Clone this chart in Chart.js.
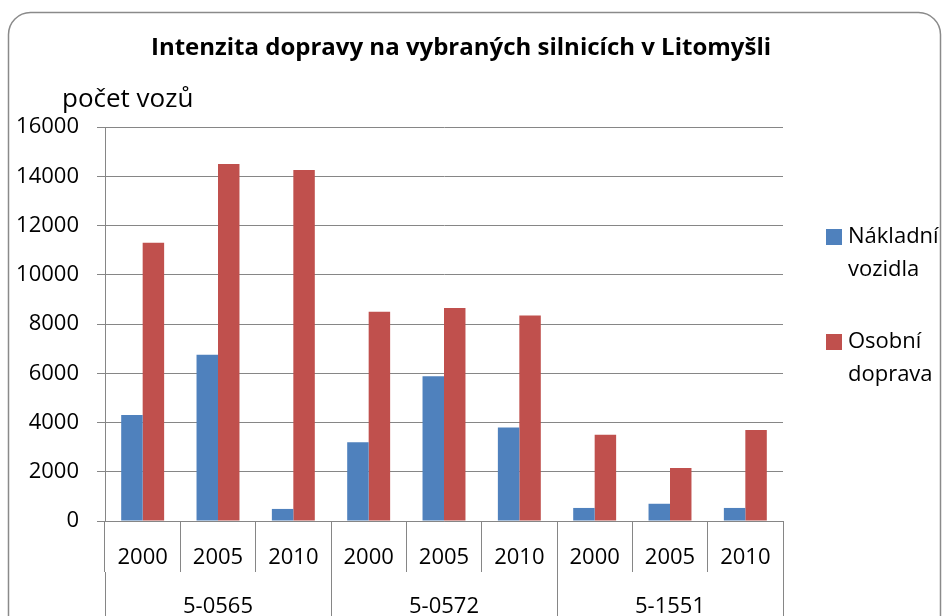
<!DOCTYPE html>
<html>
<head>
<meta charset="utf-8">
<script src="https://cdn.jsdelivr.net/npm/chart.js@4.4.1/dist/chart.umd.min.js"></script>
<style>body{margin:0;background:#fff}</style>
</head>
<body>
<canvas id="myChart" width="949" height="616"></canvas>
<script>
var years = ['2000', '2005', '2010', '2000', '2005', '2010', '2000', '2005', '2010'];
var roads = ['5-0565', '5-0572', '5-1551'];
var nakladni = [4300, 6750, 490, 3200, 5880, 3800, 530, 700, 530];
var osobni = [11300, 14500, 14250, 8500, 8650, 8350, 3500, 2150, 3700];
var yTicks = [0, 2000, 4000, 6000, 8000, 10000, 12000, 14000, 16000];

var gridColor = '#868686';
var font = 'Open Sans';

// frame, title, axis name and the two-line legend
var extras = {
    id: 'extras',
    beforeDraw: function(chart) {
        var c = chart.ctx;
        c.save();
        c.fillStyle = '#fff';
        c.fillRect(0, 0, chart.width, chart.height);
        c.strokeStyle = '#8a8a8a';
        c.lineWidth = 1.5;
        c.beginPath();
        c.roundRect(8.5, 12.5, 932, 660, 22);
        c.stroke();
        c.restore();
    },
    afterDraw: function(chart) {
        var c = chart.ctx;
        c.save();
        c.fillStyle = '#000';
        c.textBaseline = 'middle';
        c.textAlign = 'center';
        c.font = 'bold 24px "' + font + '"';
        c.fillText('Intenzita dopravy na vybraných silnicích v Litomyšli', 461, 48);
        c.textAlign = 'left';
        c.font = '26px "' + font + '"';
        c.fillText('počet vozů', 62, 100);
        c.font = '22px "' + font + '"';
        chart.data.datasets.forEach(function(ds, i) {
            var y = 237 + i * 105;
            c.fillStyle = ds.backgroundColor;
            c.fillRect(826, y - 8, 16, 16);
            c.fillStyle = '#000';
            ds.label.split(' ').forEach(function(w, j) {
                c.fillText(w, 848, y + j * 33);
            });
        });
        c.restore();
    }
};

var ctx = document.getElementById('myChart');
var myChart = new Chart(ctx, {
    type: 'bar',
    data: {
        labels: years,
        datasets: [{
            label: 'Nákladní vozidla',
            data: nakladni,
            backgroundColor: '#4f81bd'
        }, {
            label: 'Osobní doprava',
            data: osobni,
            backgroundColor: '#c0504d'
        }]
    },
    options: {
        responsive: false,
        animation: false,
        categoryPercentage: 0.57,
        barPercentage: 1,
        layout: { padding: { top: 127, right: 166, left: 0, bottom: 0 } },
        plugins: {
            legend: { display: false },
            tooltip: { enabled: false }
        },
        scales: {
            x: {
                position: 'bottom',
                weight: 0,
                offset: true,
                grid: { offset: true, drawOnChartArea: false, tickLength: 51, color: gridColor },
                border: { color: gridColor },
                ticks: { padding: -27, color: '#000', autoSkip: false, maxRotation: 0, font: { family: font, size: 22 } },
                afterFit: function(s) { s.height = 51; }
            },
            x2: {
                type: 'category',
                labels: roads,
                position: 'bottom',
                weight: 1,
                offset: true,
                grid: { offset: true, drawOnChartArea: false, tickLength: 50, color: gridColor },
                border: { display: false },
                ticks: { padding: -28, color: '#000', autoSkip: false, maxRotation: 0, font: { family: font, size: 22 } },
                afterFit: function(s) { s.height = 44; }
            },
            y: {
                min: 0,
                max: 16000,
                afterBuildTicks: function(s) {
                    s.ticks = yTicks.map(function(v) { return { value: v }; });
                },
                grid: { color: gridColor, tickLength: 8 },
                border: { color: gridColor },
                ticks: {
                    padding: 18,
                    color: '#000',
                    font: { family: font, size: 22 },
                    callback: function(v) { return String(v); }
                },
                afterFit: function(s) { s.width = 105; }
            }
        }
    },
    plugins: [extras]
});
</script>
</body>
</html>
